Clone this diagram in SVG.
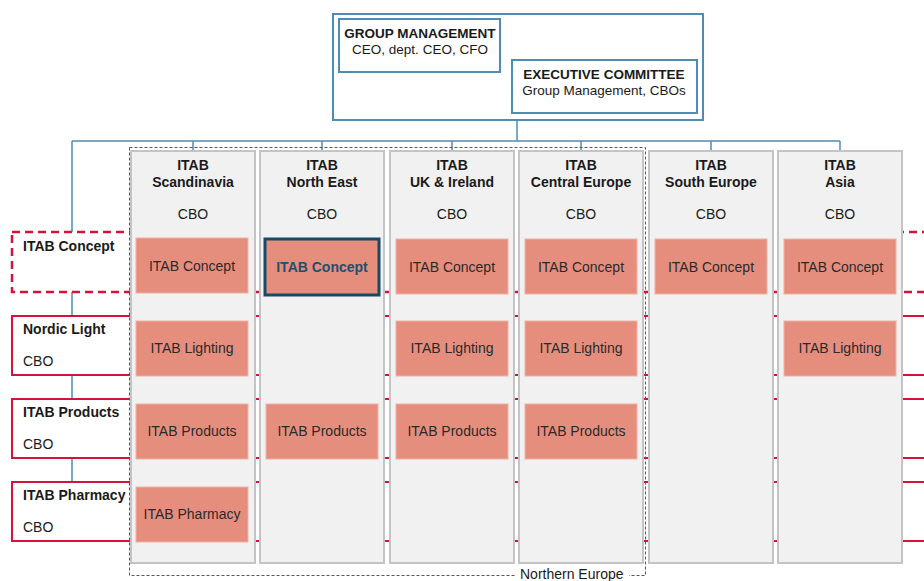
<svg xmlns="http://www.w3.org/2000/svg" width="924" height="581" viewBox="0 0 924 581">
<style>
text{font-family:"Liberation Sans",Arial,sans-serif;font-size:14px;fill:#1a1a1a}
.b{font-weight:bold}
.c{text-anchor:middle}
.t{font-size:13.5px}
.mg{fill:#fff;stroke:#4e8db0;stroke-width:2}
.con{fill:none;stroke:#4e8db0;stroke-width:1.5}
.row{fill:#fff;stroke:#d6123a;stroke-width:2}
.rowd{fill:#fff;stroke:#d6123a;stroke-width:2.5;stroke-dasharray:8 5}
.col{fill:#f1f1f1;stroke:#c4c4c4;stroke-width:2}
.u{fill:#e68e7e;stroke:#efb0a4;stroke-width:1}
.ut{fill:#2a2a2a}
.hl{fill:#e68e7e;stroke:#174a64;stroke-width:3}
.hlt{fill:#1e4f6e;font-weight:bold}
.ne{fill:none;stroke:#555;stroke-width:1;stroke-dasharray:3 2}
</style>

<g id="connectors">
  <line class="con" x1="517" y1="120" x2="517" y2="141"/>
  <line class="con" x1="72" y1="141" x2="840" y2="141"/>
  <line class="con" x1="72" y1="141" x2="72" y2="232"/>
  <line class="con" x1="193" y1="141" x2="193" y2="151"/>
  <line class="con" x1="322" y1="141" x2="322" y2="151"/>
  <line class="con" x1="452" y1="141" x2="452" y2="151"/>
  <line class="con" x1="581" y1="141" x2="581" y2="151"/>
  <line class="con" x1="711" y1="141" x2="711" y2="151"/>
  <line class="con" x1="840" y1="141" x2="840" y2="151"/>
  <line class="con" x1="72" y1="292" x2="72" y2="316"/>
  <line class="con" x1="72" y1="375" x2="72" y2="399"/>
  <line class="con" x1="72" y1="458" x2="72" y2="482"/>
</g>

<g id="management">
  <rect class="mg" x="333" y="14" width="370" height="106"/>
  <g id="group-management">
    <rect class="mg" x="339" y="19" width="161" height="53"/>
    <text class="b c t" x="420" y="38">GROUP MANAGEMENT</text>
    <text class="c t" x="420" y="54">CEO, dept. CEO, CFO</text>
  </g>
  <g id="executive-committee">
    <rect class="mg" x="512" y="60" width="185" height="53"/>
    <text class="b c t" x="604" y="79">EXECUTIVE COMMITTEE</text>
    <text class="c t" x="604" y="95">Group Management, CBOs</text>
  </g>
</g>

<g id="row-concept">
  <rect class="rowd" x="12" y="232" width="940" height="60"/>
  <text class="b" x="23" y="251">ITAB Concept</text>
</g>
<g id="row-nordic-light">
  <rect class="row" x="12" y="316" width="940" height="59"/>
  <text class="b" x="23" y="334">Nordic Light</text>
  <text x="23" y="366">CBO</text>
</g>
<g id="row-products">
  <rect class="row" x="12" y="399" width="940" height="59"/>
  <text class="b" x="23" y="417">ITAB Products</text>
  <text x="23" y="449">CBO</text>
</g>
<g id="row-pharmacy">
  <rect class="row" x="12" y="482" width="940" height="59"/>
  <text class="b" x="23" y="500">ITAB Pharmacy</text>
  <text x="23" y="532">CBO</text>
</g>

<g id="col-scandinavia">
  <rect class="col" x="131" y="151" width="124" height="412"/>
  <text class="b c" x="193" y="170">ITAB</text>
  <text class="b c" x="193" y="187">Scandinavia</text>
  <text class="c" x="193" y="219">CBO</text>
  <rect class="u" x="136" y="238" width="112" height="55"/><text class="c ut" x="192" y="271">ITAB Concept</text>
  <rect class="u" x="136" y="321" width="112" height="55"/><text class="c ut" x="192" y="353">ITAB Lighting</text>
  <rect class="u" x="136" y="404" width="112" height="55"/><text class="c ut" x="192" y="436">ITAB Products</text>
  <rect class="u" x="136" y="487" width="112" height="55"/><text class="c ut" x="192" y="519">ITAB Pharmacy</text>
</g>
<g id="col-north-east">
  <rect class="col" x="260" y="151" width="124" height="412"/>
  <text class="b c" x="322" y="170">ITAB</text>
  <text class="b c" x="322" y="187">North East</text>
  <text class="c" x="322" y="219">CBO</text>
  <rect class="hl" x="265" y="239" width="114" height="56"/><text class="c hlt" x="322" y="272">ITAB Concept</text>
  <rect class="u" x="266" y="404" width="112" height="55"/><text class="c ut" x="322" y="436">ITAB Products</text>
</g>
<g id="col-uk-ireland">
  <rect class="col" x="390" y="151" width="124" height="412"/>
  <text class="b c" x="452" y="170">ITAB</text>
  <text class="b c" x="452" y="187">UK &amp; Ireland</text>
  <text class="c" x="452" y="219">CBO</text>
  <rect class="u" x="396" y="239" width="112" height="55"/><text class="c ut" x="452" y="272">ITAB Concept</text>
  <rect class="u" x="396" y="321" width="112" height="55"/><text class="c ut" x="452" y="353">ITAB Lighting</text>
  <rect class="u" x="396" y="404" width="112" height="55"/><text class="c ut" x="452" y="436">ITAB Products</text>
</g>
<g id="col-central-europe">
  <rect class="col" x="519" y="151" width="124" height="412"/>
  <text class="b c" x="581" y="170">ITAB</text>
  <text class="b c" x="581" y="187">Central Europe</text>
  <text class="c" x="581" y="219">CBO</text>
  <rect class="u" x="525" y="239" width="112" height="55"/><text class="c ut" x="581" y="272">ITAB Concept</text>
  <rect class="u" x="525" y="321" width="112" height="55"/><text class="c ut" x="581" y="353">ITAB Lighting</text>
  <rect class="u" x="525" y="404" width="112" height="55"/><text class="c ut" x="581" y="436">ITAB Products</text>
</g>
<g id="col-south-europe">
  <rect class="col" x="649" y="151" width="124" height="412"/>
  <text class="b c" x="711" y="170">ITAB</text>
  <text class="b c" x="711" y="187">South Europe</text>
  <text class="c" x="711" y="219">CBO</text>
  <rect class="u" x="655" y="239" width="112" height="55"/><text class="c ut" x="711" y="272">ITAB Concept</text>
</g>
<g id="col-asia">
  <rect class="col" x="778" y="151" width="124" height="412"/>
  <text class="b c" x="840" y="170">ITAB</text>
  <text class="b c" x="840" y="187">Asia</text>
  <text class="c" x="840" y="219">CBO</text>
  <rect class="u" x="784" y="239" width="112" height="55"/><text class="c ut" x="840" y="272">ITAB Concept</text>
  <rect class="u" x="784" y="321" width="112" height="55"/><text class="c ut" x="840" y="353">ITAB Lighting</text>
</g>

<g id="northern-europe">
  <rect class="ne" x="129.5" y="147.5" width="516" height="428"/>
  <rect x="516" y="568" width="113" height="13" fill="#fff"/>
  <text x="520" y="579">Northern Europe</text>
</g>
</svg>
